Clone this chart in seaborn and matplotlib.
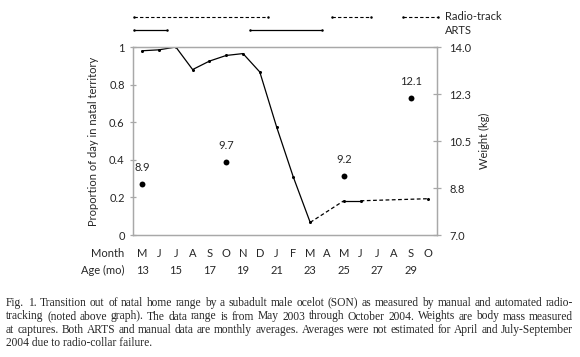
import numpy as np
import pandas as pd
import matplotlib
matplotlib.use('Agg')
import matplotlib.pyplot as plt
import seaborn as sns

# data
months = ['M', 'J', 'J', 'A', 'S', 'O', 'N', 'D', 'J', 'F', 'M', 'A', 'M', 'J', 'J', 'A', 'S', 'O']
ages = [13, 15, 17, 19, 21, 23, 25, 27, 29]
age_pos = [0, 2, 4, 6, 8, 10, 12, 14, 16]
proportion = [0.98, 0.985, 1.0, 0.88, 0.925, 0.955, 0.965, 0.867, 0.575, 0.307, 0.067,
              np.nan, 0.182, 0.182, np.nan, np.nan, np.nan, 0.193]
weight_month = [0, 5, 12, 16]
weight_kg = [8.9, 9.7, 9.2, 12.1]
radio_spans = [(-0.48, 7.5), (11.3, 13.6)]
arts_spans = [(-0.48, 1.5), (6.4, 10.7)]
legend_span = (15.55, 17.6)
caption_lines = [
    "Fig. 1. Transition out of natal home range by a subadult male ocelot (SON) as measured by manual and automated radio-",
    "tracking (noted above graph). The data range is from May 2003 through October 2004. Weights are body mass measured",
    "at captures. Both ARTS and manual data are monthly averages. Averages were not estimated for April and July-September",
    "2004 due to radio-collar failure.",
]

sns.set_style('white')
plt.rcParams['font.family'] = ['Lato', 'DejaVu Sans']
spine_c = '#a8a8a8'
fs = 8

fig = plt.figure(figsize=(5.8, 3.57), dpi=100)
ax = fig.add_axes([133 / 580, 1 - 235 / 357, 304 / 580, 188 / 357])

df = pd.DataFrame({'month': np.arange(len(months)), 'prop': proportion}).dropna()
df['run'] = (df['month'].diff() != 1).cumsum()
sns.lineplot(data=df, x='month', y='prop', units='run', estimator=None, color='black',
             lw=0.9, marker='o', markersize=2.2, markeredgewidth=0, ax=ax)
# bridge gaps with dashed segments
gaps = []
prev = None
for _, r in df.iterrows():
    if prev is not None and r['month'] - prev['month'] > 1:
        gaps.append(pd.DataFrame({'month': [prev['month'], r['month']], 'prop': [prev['prop'], r['prop']], 'g': len(gaps)}))
    prev = r
gdf = pd.concat(gaps)
sns.lineplot(data=gdf, x='month', y='prop', units='g', estimator=None, color='black',
             lw=0.9, dashes=False, ax=ax, linestyle=(0, (3, 2)))

ax.set_xlim(-0.55, 17.55)
ax.set_ylim(0, 1)
ax.set_yticks([0, 0.2, 0.4, 0.6, 0.8, 1])
ax.set_yticklabels(['0', '0.2', '0.4', '0.6', '0.8', '1'])
ax.set_xticks([])
ax.set_xticks(np.arange(0.5, 17, 1), minor=True)
ax.tick_params(axis='x', which='minor', direction='in', length=3.5, color=spine_c, width=0.9)
ax.tick_params(axis='y', direction='inout', length=4, color=spine_c, width=0.9, labelsize=fs, pad=4, left=True)
ax.set_xlabel('')
ax.set_ylabel('Proportion of day in natal territory', fontsize=fs, labelpad=7)
for s in ax.spines.values():
    s.set_color(spine_c)
    s.set_linewidth(0.9)

# month / age rows
tr = ax.get_xaxis_transform()
for i, m in enumerate(months):
    ax.text(i, -0.096, m, transform=tr, ha='center', va='center', fontsize=fs)
for p, a in zip(age_pos, ages):
    ax.text(p, -0.19, str(a), transform=tr, ha='center', va='center', fontsize=fs)
ax.text(-1.07, -0.096, 'Month', transform=tr, ha='right', va='center', fontsize=fs)
ax.text(-1.07, -0.19, 'Age (mo)', transform=tr, ha='right', va='center', fontsize=fs)

# tracking method bars above graph
for a, b in radio_spans + [legend_span]:
    ax.plot([a, b], [1.158, 1.158], transform=tr, clip_on=False, color='black', lw=0.8,
            linestyle=(0, (3, 2)), marker='o', markersize=1.8, markeredgewidth=0)
for a, b in arts_spans:
    ax.plot([a, b], [1.089, 1.089], transform=tr, clip_on=False, color='black', lw=0.9,
            marker='o', markersize=1.8, markeredgewidth=0)
ax.text(18.0, 1.16, 'Radio-track', transform=tr, ha='left', va='center', fontsize=fs)
ax.text(18.0, 1.088, 'ARTS', transform=tr, ha='left', va='center', fontsize=fs)

# weight axis
ax2 = ax.twinx()
wdf = pd.DataFrame({'month': weight_month, 'kg': weight_kg})
sns.scatterplot(data=wdf, x='month', y='kg', color='black', s=18, linewidth=0, ax=ax2)
for m, w in zip(weight_month, weight_kg):
    ax2.annotate(f'{w:.1f}', (m, w), xytext=(0, 8), textcoords='offset points',
                 ha='center', va='bottom', fontsize=fs)
ax2.set_ylim(7, 14)
ax2.set_yticks([7, 8.75, 10.5, 12.25, 14])
ax2.set_yticklabels(['7.0', '8.8', '10.5', '12.3', '14.0'])
ax2.tick_params(axis='y', direction='inout', length=6, color=spine_c, width=0.9, labelsize=fs, pad=6, right=True)
ax2.set_ylabel('Weight (kg)', fontsize=fs, labelpad=5)
ax2.set_xlabel('')
for s in ax2.spines.values():
    s.set_color(spine_c)
    s.set_linewidth(0.9)
ax2.set_xlim(-0.55, 17.55)

# caption, justified
renderer = fig.canvas.get_renderer()
W = fig.get_figwidth() * fig.dpi
H = fig.get_figheight() * fig.dpi
x0, x1 = 6, 573
cap_y = [303, 316.5, 330, 343.5]
cap_fs = 8.3
for i, line in enumerate(caption_lines):
    y = 1 - cap_y[i] / H
    if i == len(caption_lines) - 1:
        fig.text(x0 / W, y, line, fontsize=cap_fs, family='Liberation Serif', va='center')
        continue
    words = line.split()
    texts = [fig.text(0, y, w, fontsize=cap_fs, family='Liberation Serif', va='center') for w in words]
    widths = [t.get_window_extent(renderer).width for t in texts]
    gap = (x1 - x0 - sum(widths)) / (len(words) - 1)
    x = x0
    for t, w in zip(texts, widths):
        t.set_x(x / W)
        x += w + gap

fig.savefig('out.png', dpi=100, facecolor='white')
